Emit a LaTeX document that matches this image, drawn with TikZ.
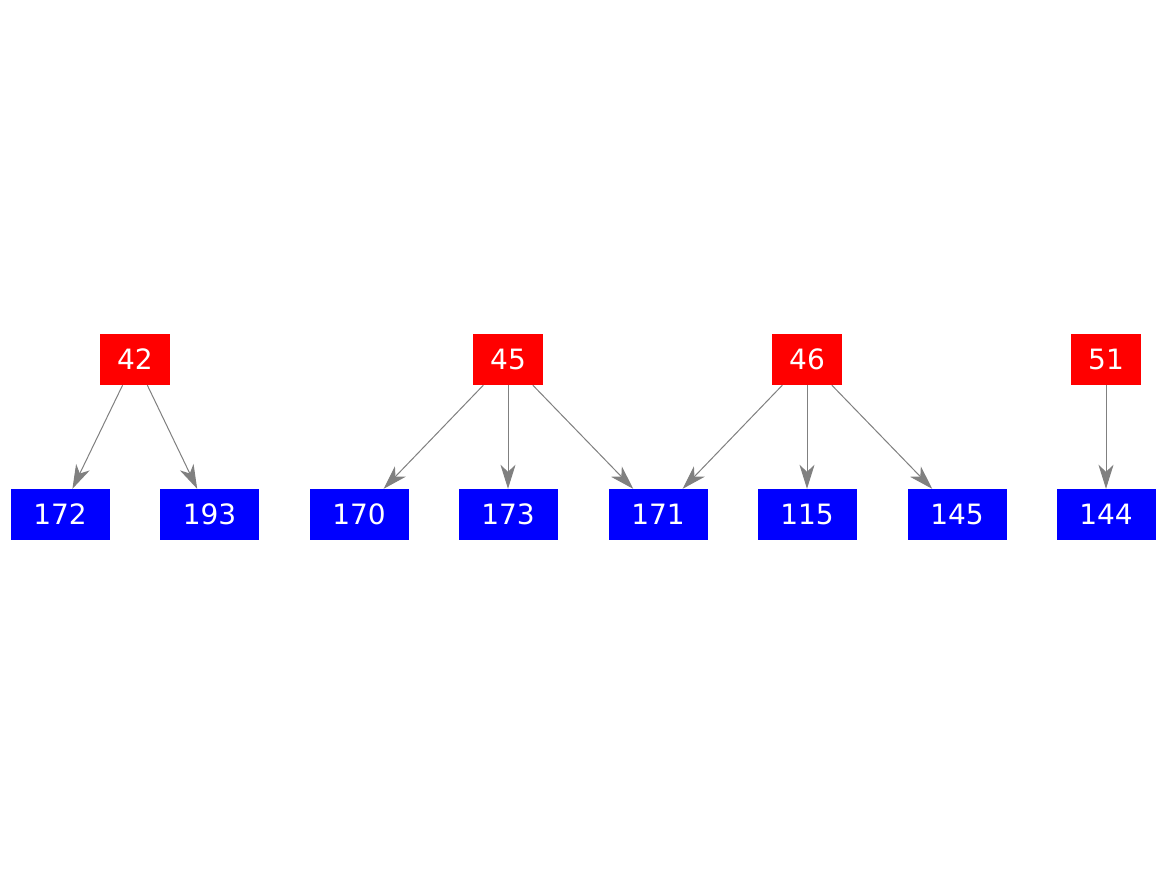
\documentclass[tikz,border=0pt]{standalone}
\usepackage{fontspec}
\setmainfont{DejaVu Sans}
\usetikzlibrary{arrows.meta}
\begin{document}
\begin{tikzpicture}[
  x=1pt,y=-1pt,
  src/.style={fill=red,text=white,minimum width=70pt,minimum height=51pt,inner sep=0pt,font=\fontsize{28}{33}\selectfont},
  dst/.style={fill=blue,text=white,minimum width=99pt,minimum height=51pt,inner sep=0pt,font=\fontsize{28}{33}\selectfont},
  link/.style={draw=gray,line width=1pt,-{Stealth[length=24pt,width=15pt,inset=7pt]}},
]
\useasboundingbox[fill=white] (0,0) rectangle (1167,875);
\foreach \n/\x in {42/135,45/508,46/807,51/1106}{\node[src] (s\n) at (\x,359.5) {\n};}
\foreach \n/\x in {172/60,193/209.5,170/359,173/508,171/658,115/807,145/957,144/1106}{\node[dst] (d\n) at (\x,514.5) {\n};}
\foreach \a/\b in {42/172,42/193,45/170,45/173,45/171,46/171,46/115,46/145,51/144}{\draw[link] (s\a)--(d\b);}
\end{tikzpicture}
\end{document}
